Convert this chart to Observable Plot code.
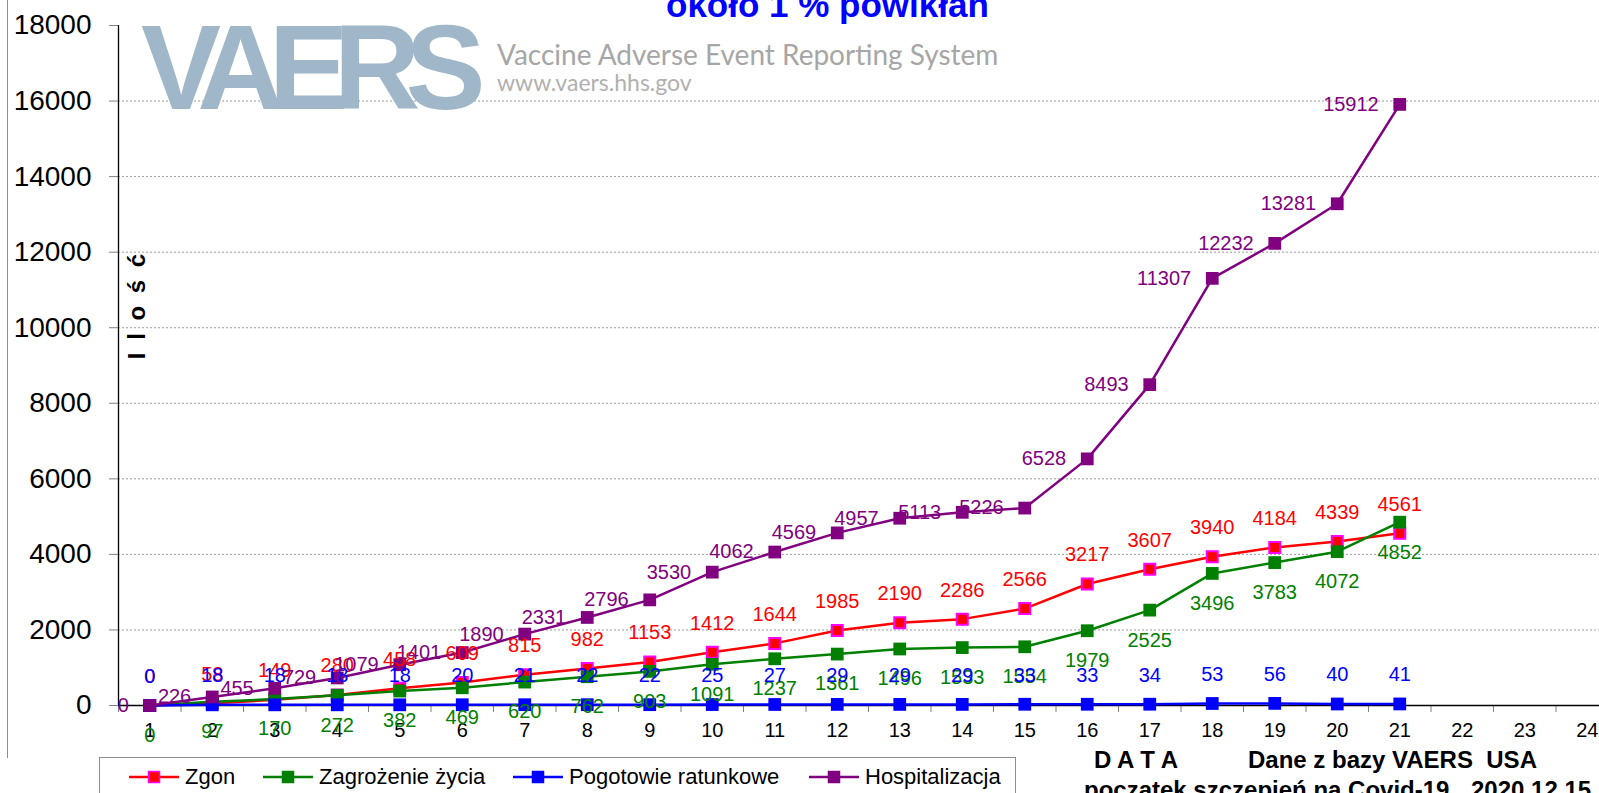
<!DOCTYPE html>
<html>
<head>
<meta charset="utf-8">
<script src="https://cdn.jsdelivr.net/npm/d3@7"></script>
<script src="https://cdn.jsdelivr.net/npm/@observablehq/plot@0.6"></script>
<style>
  html, body { margin: 0; padding: 0; background: #fff; }
  #wrap { position: relative; width: 1599px; height: 793px; overflow: hidden; font-family: "Liberation Sans", Arial, sans-serif; }
  #wrap svg { position: absolute; left: 0; top: 0; }
  .abs { position: absolute; line-height: 1; white-space: pre; }
  .legend-item { position: absolute; top: 764px; height: 26px; display: flex; align-items: center; font-size: 22px; color: #000; }
</style>
</head>
<body>
<div id="wrap">
  <div id="chart"></div>
  <div class="abs" style="left:7px; top:0; width:1px; height:758px; background:#8c8c8c;"></div>
  <div class="abs" style="left:141px; top:7px; font-size:120px; font-weight:700; letter-spacing:-15px; color:#a0b6c9; font-family:'Liberation Sans', Arial, sans-serif;">VAERS</div>
  <div class="abs" style="left:497px; top:40px; font-size:28px; color:#a6a6a6; font-family:Lato, sans-serif;">Vaccine Adverse Event Reporting System</div>
  <div class="abs" style="left:497px; top:71px; font-size:23px; color:#b0b0b0; font-family:Lato, sans-serif;">www.vaers.hhs.gov</div>
  <div class="abs" style="left:666px; top:-13px; font-size:35px; font-weight:700; color:#0000ff;">około 1 % powikłań</div>
  <div class="abs" style="left:125px; top:293px; font-size:24px; font-weight:700; letter-spacing:3px; transform:rotate(-90deg); transform-origin:center; width:110px; text-align:center; margin-left:-43px;">I l o ś ć</div>
  <div id="legend" class="abs" style="left:99px; top:757px; width:915px; height:60px; border:1px solid #8c8c8c; background:#fff;"></div>
  <div class="abs" style="left:1094px; top:748px; font-size:24px; font-weight:700;">D A T A</div>
  <div class="abs" style="left:1248px; top:748px; font-size:24px; font-weight:700;">Dane z bazy VAERS  USA</div>
  <div class="abs" style="left:1084px; top:778px; font-size:24px; font-weight:700;">poczatek szczepień na Covid-19</div>
  <div class="abs" style="left:1471px; top:778px; font-size:24px; font-weight:700;">2020 12 15</div>
</div>
<script>
// ---- data ----
const days = [1,2,3,4,5,6,7,8,9,10,11,12,13,14,15,16,17,18,19,20,21];
const zgon = [0,58,149,280,458,609,815,982,1153,1412,1644,1985,2190,2286,2566,3217,3607,3940,4184,4339,4561];
const zagrozenie = [0,97,170,272,382,469,620,762,903,1091,1237,1361,1496,1533,1554,1979,2525,3496,3783,4072,4852];
const pogotowie = [0,18,18,18,18,20,21,22,22,25,27,29,29,29,33,33,34,53,56,40,41];
const hospitalizacja = [0,226,455,729,1079,1401,1890,2331,2796,3530,4062,4569,4957,5113,5226,6528,8493,11307,12232,13281,15912];
const xTickLabels = [1,2,3,4,5,6,7,8,9,10,11,12,13,14,15,16,17,18,19,20,21,22,23,24];
const yTickLabels = [0,2000,4000,6000,8000,10000,12000,14000,16000,18000];
const seriesNames = ["Zgon", "Zagrożenie życia", "Pogotowie ratunkowe", "Hospitalizacja"];

const rows = days.map((d, i) => ({day: d, zgon: zgon[i], zagrozenie: zagrozenie[i], pogotowie: pogotowie[i], hospitalizacja: hospitalizacja[i]}));
const halfTicks = xTickLabels.map(d => d - 0.5);
const gridTicks = yTickLabels.filter(v => v > 0 && v < 18000);

const W = 1599, H = 793, ML = 118, MB = 88, MT = 25;
const unit = 62.5;
const xMax = 0.5 + (W - ML) / unit;

const lbl = {fontSize: 20};

const chart = Plot.plot({
  width: W, height: H,
  marginLeft: ML, marginRight: 0, marginTop: MT, marginBottom: MB,
  style: {fontFamily: "'Liberation Sans', Arial, sans-serif", background: "transparent", overflow: "visible"},
  x: {domain: [0.5, xMax]},
  y: {domain: [0, 18000]},
  marks: [
    Plot.gridY(gridTicks, {stroke: "#9a9a9a", strokeOpacity: 1, strokeDasharray: "2,2", strokeWidth: 1}),
    Plot.axisY(yTickLabels, {tickSize: 9, tickPadding: 18, fontSize: 28, stroke: "#808080", fill: "#000", label: null, tickFormat: d => String(d)}),
    Plot.axisX(halfTicks, {tickSize: 7, tickFormat: () => "", stroke: "#808080", label: null}),
    Plot.axisX(xTickLabels, {tickSize: 0, tickPadding: 17, fontSize: 20, fill: "#000", label: null}),
    Plot.ruleX([0.5], {stroke: "#000", strokeWidth: 1.3}),
    Plot.ruleY([0], {stroke: "#000", strokeWidth: 1.3}),
    // Zgon
    Plot.line(rows, {x: "day", y: "zgon", stroke: "#ff0000", strokeWidth: 2.5}),
    Plot.dot(rows, {x: "day", y: "zgon", symbol: "square", r: 6.2, fill: "#ff0000", stroke: "#ff00ff", strokeWidth: 2}),
    // Zagrożenie życia
    Plot.line(rows, {x: "day", y: "zagrozenie", stroke: "#008000", strokeWidth: 2.5}),
    Plot.dot(rows, {x: "day", y: "zagrozenie", symbol: "square", r: 7.2, fill: "#008000", stroke: "none"}),
    // Pogotowie ratunkowe
    Plot.line(rows, {x: "day", y: "pogotowie", stroke: "#0000ff", strokeWidth: 2.5}),
    Plot.dot(rows, {x: "day", y: "pogotowie", symbol: "square", r: 7.2, fill: "#0000ff", stroke: "none"}),
    // Hospitalizacja
    Plot.line(rows, {x: "day", y: "hospitalizacja", stroke: "#800080", strokeWidth: 2.5}),
    Plot.dot(rows, {x: "day", y: "hospitalizacja", symbol: "square", r: 7.2, fill: "#800080", stroke: "none"}),
    // labels
    Plot.text(rows, {x: "day", y: "zgon", text: d => String(d.zgon), dy: -29, fill: "#ff0000", ...lbl}),
    Plot.text(rows, {x: "day", y: "zagrozenie", text: d => String(d.zagrozenie), dy: 30, fill: "#008000", ...lbl}),
    Plot.text(rows, {x: "day", y: "pogotowie", text: d => String(d.pogotowie), dy: -29, fill: "#0000ff", ...lbl}),
    Plot.text(rows, {x: "day", y: "hospitalizacja", text: d => String(d.hospitalizacja), dx: -21, textAnchor: "end", fill: "#800080", ...lbl})
  ]
});
document.getElementById("chart").appendChild(chart);

// ---- legend ----
const legendItems = [
  {name: seriesNames[0], line: "#ff0000", fill: "#ff0000", stroke: "#ff00ff", x: 29},
  {name: seriesNames[1], line: "#008000", fill: "#008000", stroke: "#008000", x: 163},
  {name: seriesNames[2], line: "#0000ff", fill: "#0000ff", stroke: "#0000ff", x: 413},
  {name: seriesNames[3], line: "#800080", fill: "#800080", stroke: "#800080", x: 709}
];
const legend = document.getElementById("legend");
for (const it of legendItems) {
  const el = document.createElement("div");
  el.className = "legend-item";
  el.style.left = it.x + "px";
  el.style.top = "6px";
  el.innerHTML = `<svg width="52" height="14" style="position:static;margin-right:4px"><line x1="0" x2="50" y1="7" y2="7" stroke="${it.line}" stroke-width="2.5"/><rect x="19.5" y="1.5" width="11" height="11" fill="${it.fill}" stroke="${it.stroke}" stroke-width="1.5"/></svg><span>${it.name}</span>`;
  legend.appendChild(el);
}
</script>
</body>
</html>
